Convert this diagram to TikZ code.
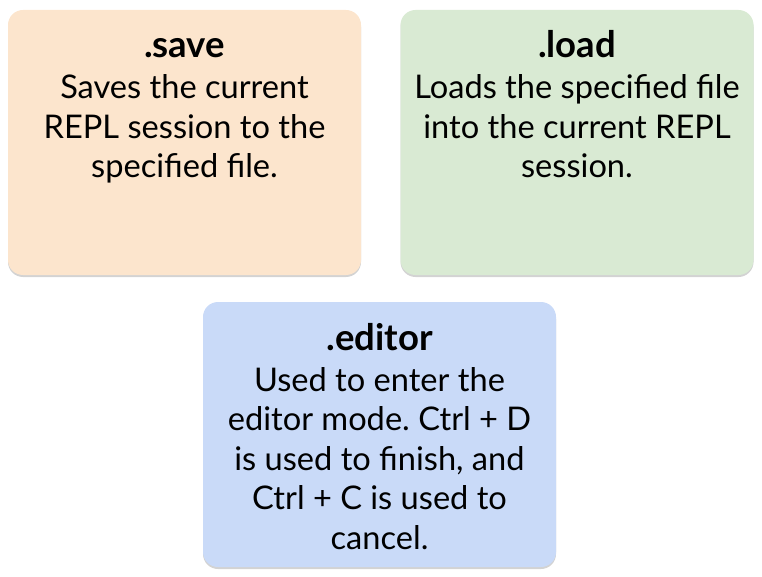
\documentclass[tikz,border=0pt]{standalone}
\usepackage{fontspec}
\setmainfont{Lato}
\usetikzlibrary{shadows}
\frenchspacing
\definecolor{savecol}{HTML}{FCE5CD}
\definecolor{loadcol}{HTML}{D9EAD3}
\definecolor{editcol}{HTML}{C9DAF8}
\tikzset{
  card/.style={draw=none, rounded corners=15pt, minimum width=353pt, minimum height=265pt,
    inner sep=0pt, drop shadow={opacity=0.35, shadow xshift=0pt, shadow yshift=-2pt}},
  ttl/.style={anchor=base, font=\fontsize{36.5}{39.5}\selectfont\bfseries, inner sep=0pt},
  body/.style={anchor=base, align=center, font=\fontsize{32.6}{39.5}\selectfont, inner sep=0pt}
}
\begin{document}
\begin{tikzpicture}[x=1pt,y=-1pt]
\useasboundingbox (0,0) rectangle (762,577);
\node[card, fill=savecol] (save) at (184.5,142.5) {};
\node[card, fill=loadcol] (load) at (577,142.5) {};
\node[card, fill=editcol] (edit) at (379.5,434.5) {};
\node[ttl] (savet) at (184.5,58) {.save};
\node[body] (saveb) at (184.5,178) {Saves the current\\REPL session to the\\specified file.};
\node[ttl] (loadt) at (577,58) {.load};
\node[body] (loadb) at (577,178) {Loads the specified file\\into the current REPL\\session.};
\node[ttl] (editt) at (379.5,350) {.editor};
\node[body] (editb) at (379.5,549) {Used to enter the\\editor mode. Ctrl + D\\is used to finish, and\\Ctrl + C is used to\\cancel.};
\end{tikzpicture}
\end{document}
